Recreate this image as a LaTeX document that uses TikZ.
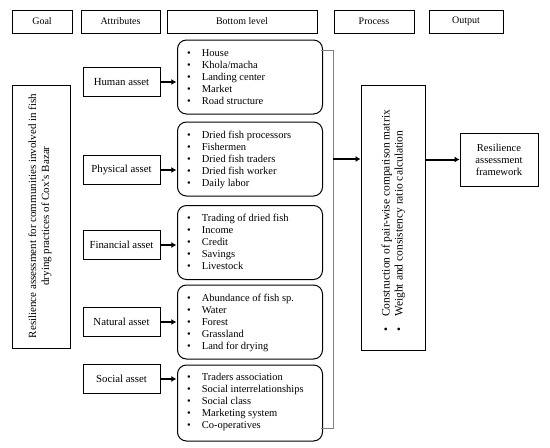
\documentclass[tikz,border=0pt]{standalone}
\usepackage{fontspec}
\setmainfont{Liberation Serif}
\usetikzlibrary{arrows.meta}
\begin{document}
\begin{tikzpicture}[x=1pt,y=-1pt,
  hdr/.style={draw,line width=0.8pt,minimum height=23pt,font=\fontsize{10}{12}\selectfont,inner sep=0pt},
  attr/.style={draw,line width=0.8pt,minimum width=77pt,minimum height=29pt,font=\fontsize{10.8}{12}\selectfont,inner sep=0pt},
  lst/.style={draw,line width=1pt,rounded corners=9pt,minimum width=145pt,minimum height=74pt,inner sep=0pt},
  itm/.style={anchor=west,align=left,inner sep=0pt},
  arr/.style={line width=2pt,-{Latex[length=5pt,width=6pt]}},
  brk/.style={draw=gray,line width=0.6pt}]
\useasboundingbox (0,0) rectangle (550,448);
% headers
\node[hdr,minimum width=60pt] (hg) at (42,21.5) {Goal};
\node[hdr,minimum width=79pt] (ha) at (120.5,21.5) {Attributes};
\node[hdr,minimum width=150pt] (hb) at (242,21.5) {Bottom level};
\node[hdr,minimum width=80pt] (hp) at (374,21.5) {Process};
\node[hdr,minimum width=74pt] (ho) at (466,21.5) {Output};
% goal
\node[draw,line width=0.8pt,minimum width=58pt,minimum height=263pt,inner sep=0pt] (goal) at (41,216.5) {};
\node[rotate=90,align=center,font=\fontsize{11}{13}\selectfont] (goalt) at (40,216) {Resilience assessment for communities involved in fish\\drying practices of Cox's Bazar};
% attributes
\node[attr] (a1) at (121.5,82) {Human asset};
\node[attr] (a2) at (121.5,170) {Physical asset};
\node[attr] (a3) at (121.5,245) {Financial asset};
\node[attr] (a4) at (121.5,322) {Natural asset};
\node[attr] (a5) at (121.5,379) {Social asset};
% lists
\node[lst] (b1) at (250,77) {};
\node[lst] (b2) at (250,159) {};
\node[lst] (b3) at (250,242.5) {};
\node[lst] (b4) at (250,322) {};
\node[lst,minimum height=76pt] (b5) at (250,403) {};
\newcommand{\blist}[5]{\begin{tabular}{@{}l@{\hspace{11pt}}l@{}}\textbullet&#1\\\textbullet&#2\\\textbullet&#3\\\textbullet&#4\\\textbullet&#5\end{tabular}}
\renewcommand{\arraystretch}{1}
\node[itm] (t1) at (187,78) {\fontsize{10.5}{12}\selectfont\blist{House}{Khola/macha}{Landing center}{Market}{Road structure}};
\node[itm] (t2) at (187,160) {\fontsize{10.5}{12}\selectfont\blist{Dried fish processors}{Fishermen}{Dried fish traders}{Dried fish worker}{Daily labor}};
\node[itm] (t3) at (187,243.5) {\fontsize{10.5}{12}\selectfont\blist{Trading of dried fish}{Income}{Credit}{Savings}{Livestock}};
\node[itm] (t4) at (187,323) {\fontsize{10.5}{12}\selectfont\blist{Abundance of fish sp.}{Water}{Forest}{Grassland}{Land for drying}};
\node[itm] (t5) at (187,402) {\fontsize{10.5}{12}\selectfont\blist{Traders association}{Social interrelationships}{Social class}{Marketing system}{Co-operatives}};
% arrows attr -> list
\draw[arr] (a1.east) -- ++(16,0);
\draw[arr] (a2.east) -- ++(16,0);
\draw[arr] (a3.east) -- ++(16,0);
\draw[arr] (a4.east) -- ++(16,0);
\draw[arr] (a5.east) -- ++(16,0);
% bracket
\coordinate (k1) at (333,50);
\coordinate (k2) at (333,428);
\coordinate (km) at (333,159);
\draw[brk] (321,50) -- (k1) -- (k2) -- (321,428);
% process
\node[draw,line width=0.8pt,minimum width=64pt,minimum height=265pt,inner sep=0pt] (proc) at (393,217.5) {};
\node[rotate=90,anchor=west,inner sep=0pt] (proct) at (393.5,332) {\fontsize{11.5}{13}\selectfont\begin{tabular}{@{}l@{\hspace{11pt}}l@{}}\textbullet&Construction of pair-wise comparison matrix\\\textbullet&Weight and consistency ratio calculation\end{tabular}};
\draw[arr] (km) -- (proc.west |- km);
% output
\node[draw,line width=0.8pt,minimum width=78pt,minimum height=53pt,align=center,font=\fontsize{10.6}{12}\selectfont,inner sep=0pt] (out) at (499,159.5) {Resilience\\assessment\\framework};
\draw[arr] (proc.east |- out.west) -- (out.west);
\end{tikzpicture}
\end{document}
